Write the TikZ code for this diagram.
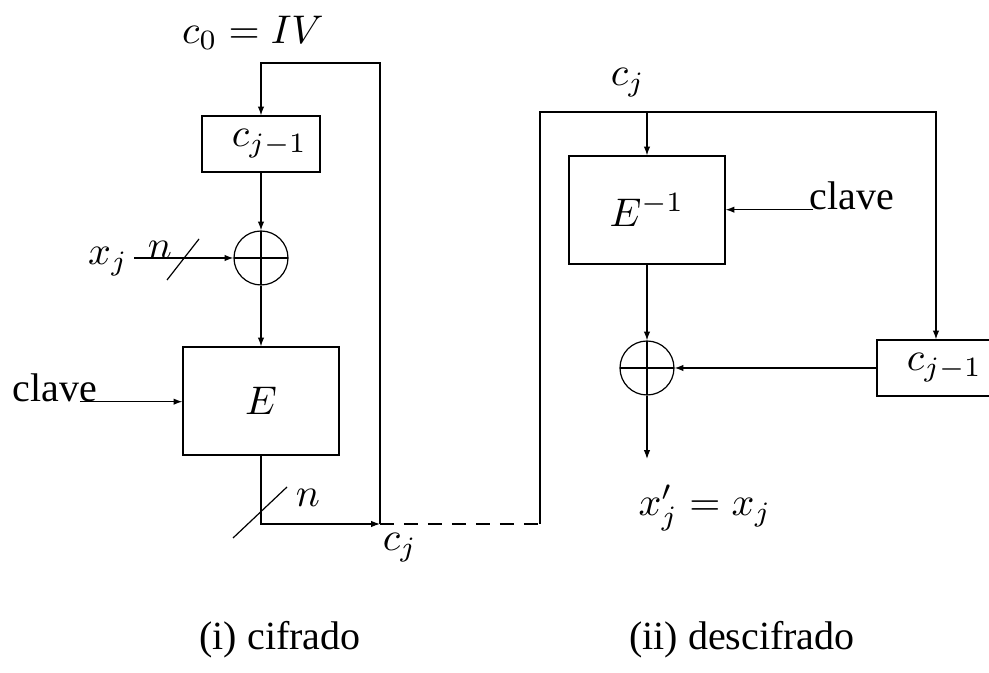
\documentclass[tikz,border=0pt]{standalone}
\usepackage[no-math]{fontspec}
\setmainfont{Liberation Serif}
\usepackage{amsmath}
\usetikzlibrary{arrows.meta, positioning, calc}

\begin{document}
\begin{tikzpicture}[x=0.25pt, y=-0.25pt, >={Latex[length=2.2pt,width=1.6pt]}, line width=0.3pt,
    box/.style={draw, minimum height=27pt, minimum width=39pt, inner sep=0pt},
    regbox/.style={draw, minimum height=14pt, text width=23pt, align=right, inner xsep=3.25pt, inner ysep=0pt},
    xorop/.style={draw, circle, minimum size=13.5pt, inner sep=0pt,
        path picture={\draw (path picture bounding box.north) -- (path picture bounding box.south)
                            (path picture bounding box.west) -- (path picture bounding box.east);}},
    lbl/.style={inner sep=1.5pt}]
    \useasboundingbox (0,0) rectangle (989,673);
    % (i) cifrado
    \node[regbox] (prev) at (261,144) {$c_{j-1}$};
    \node[xorop] (xor) at (261,258) {};
    \node[box] (enc) at (261,401) {$E$};
    \node (iv) at (253,33) {$c_0 = IV$};
    \coordinate (fbtop) at (380,63);
    \coordinate (cjout) at (380,524);
    \draw[->] (cjout) -- (fbtop) -| (prev.north);
    \draw[->] (prev) -- (xor);
    \draw[->] (xor) -- (enc);
    \node[lbl] (xin) at (108,262) {$x_j$};
    \draw[->] (xin.east |- xor.west) -- (xor.west);
    \node (nin) at (160,250) {$n$};
    \draw (167,280) -- (199,239);
    \node[inner sep=0pt] (key) at (55,388) {clave};
    \draw[->] ([xshift=-4.5pt]key.base east) -- (key.base east -| enc.west);
    \draw[->] (enc.south) |- (cjout);
    \draw (233,538) -- (287,487);
    \node (nout) at (308,498) {$n$};
    \node (cjlow) at (400,548) {$c_j$};
    % (ii) descifrado
    \node[box] (dec) at (647,210) {$E^{-1}$};
    \node[xorop] (xortwo) at (647,368) {};
    \node[regbox] (prevtwo) at (936,368) {$c_{j-1}$};
    \coordinate (dlow) at (540,524);
    \coordinate (dtop) at (540,112);
    \draw[dash pattern=on 3.5pt off 2.5pt] (cjout) -- (dlow);
    \draw[->] (dlow) -- (dtop) -| (prevtwo.north);
    \draw[->] (dec.north |- dtop) -- (dec.north);
    \node (cjtop) at (628,83) {$c_j$};
    \node[inner sep=0pt] (keytwo) at (852,196) {clave};
    \draw[->] ([xshift=1pt]keytwo.base west) -- (keytwo.base west -| dec.east);
    \draw[->] (dec) -- (xortwo);
    \draw[->] (prevtwo) -- (xortwo);
    \coordinate (xout) at (647,459);
    \draw[->] (xortwo) -- (xout);
    \node (res) at (705,508) {$x'_j = x_j$};
    \node (capone) at (280,640) {(i) cifrado};
    \node (captwo) at (742,640) {(ii) descifrado};
\end{tikzpicture}
\end{document}
